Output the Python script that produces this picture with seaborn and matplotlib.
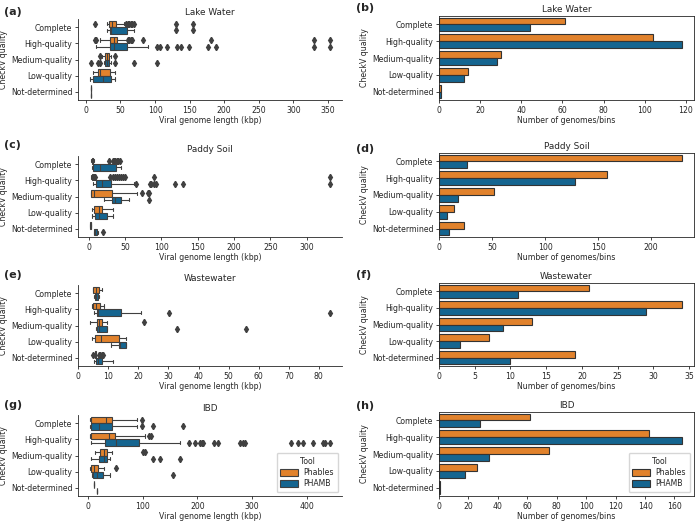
import matplotlib.pyplot as plt
from matplotlib.patches import Patch
import pandas as pd
import seaborn as sns

# CheckV quality categories (top to bottom)
qualities = ["Complete", "High-quality", "Medium-quality", "Low-quality", "Not-determined"]
tools = ["Phables", "PHAMB"]
datasets = ["Lake Water", "Paddy Soil", "Wastewater", "IBD"]

# box stats per quality: (whislo, q1, median, q3, whishi), values in kbp
lake_phables_box = [(30, 34, 38, 44, 55), (20, 35, 40, 45, 59), (24, 27, 30, 33, 36), (11, 17, 20, 35, 42), (8, 8, 8, 8, 8)]
lake_phables_fliers = [[13, 58, 61, 63, 65, 67, 69, 131, 155], [13, 14, 61, 63, 65, 67, 83, 181, 330, 353], [20, 42], [], []]
lake_phambs_box = [(30, 35, 37, 59, 69), (14, 35, 40, 60, 90), (26, 28, 30, 33, 36), (6, 11, 25, 37, 42), (8, 8, 8, 8, 8)]
lake_phambs_fliers = [[131, 155], [103, 107, 118, 132, 137, 149, 176, 188, 330, 353], [7, 18, 20, 42, 69, 103], [], []]

paddy_phables_box = [(4, 5, 5.5, 6, 7), (4, 5, 5.5, 6, 7), (3, 4, 7, 32, 67), (5, 7, 14, 18, 34), (2, 2.5, 3, 3.5, 4)]
paddy_phables_fliers = [[28, 33, 35, 37, 39, 41, 43], [8, 9, 30, 33, 36, 39, 42, 45, 48, 50, 90, 332], [74, 82, 83], [], []]
paddy_phambs_box = [(5, 5.5, 16, 38, 44), (6, 10, 18, 31, 62), (21, 32, 37, 45, 55), (5, 9, 15, 25, 34), (7, 8, 9, 12, 13)]
paddy_phambs_fliers = [[], [65, 84, 86, 90, 93, 119, 130, 332], [83], [], [20]]

waste_phables_box = [(4.8, 5, 5.8, 6.8, 7.8), (4.6, 4.8, 5.9, 7.2, 8.5), (3.9, 6.1, 6.8, 7.8, 9.4), (4.4, 5.6, 7.6, 13.4, 15.8), (5.2, 5.4, 5.6, 5.8, 6)]
waste_phables_fliers = [[], [], [21.8], [], [4.9, 6.8, 7.3, 7.8, 8.2]]
waste_phambs_box = [(5.3, 5.5, 6, 6.6, 6.8), (5.3, 6.1, 6.5, 14.3, 21), (6, 6.1, 7, 9.4, 9.4), (10.9, 13.6, 14, 15.9, 15.9), (5.3, 5.8, 6.5, 7.8, 11.5)]
waste_phambs_fliers = [[], [30.3, 83.7], [32.7, 55.7], [], []]

ibd_phables_box = [(3, 5, 32, 43, 90), (3, 5, 38, 48, 103), (12, 22, 28, 34, 43), (3, 5, 11, 18, 28), (11, 11, 11, 11, 11)]
ibd_phables_fliers = [[99], [111, 114], [101, 104], [50], []]
ibd_phambs_box = [(3, 5, 20, 43, 90), (4, 31, 50, 93, 168), (4, 20, 28, 34, 40), (7, 9, 15, 26, 40), (16, 16, 16, 16, 16)]
ibd_phambs_fliers = [[99, 119, 174], [185, 195, 205, 208, 210, 231, 237, 278, 283, 287, 372, 385, 393, 412, 430, 433, 443], [119, 131, 168], [156], []]

# number of genomes/bins per quality
lake_counts_phables = [61, 104, 30, 14, 1]
lake_counts_phamb = [44, 118, 28, 12, 1]
paddy_counts_phables = [229, 158, 52, 14, 24]
paddy_counts_phamb = [26, 128, 18, 8, 9]
waste_counts_phables = [21, 34, 13, 7, 19]
waste_counts_phamb = [11, 29, 9, 3, 10]
ibd_counts_phables = [62, 143, 75, 26, 1]
ibd_counts_phamb = [28, 165, 34, 18, 1]

box_data = [
    (lake_phables_box, lake_phables_fliers, lake_phambs_box, lake_phambs_fliers),
    (paddy_phables_box, paddy_phables_fliers, paddy_phambs_box, paddy_phambs_fliers),
    (waste_phables_box, waste_phables_fliers, waste_phambs_box, waste_phambs_fliers),
    (ibd_phables_box, ibd_phables_fliers, ibd_phambs_box, ibd_phambs_fliers),
]
count_data = [
    (lake_counts_phables, lake_counts_phamb),
    (paddy_counts_phables, paddy_counts_phamb),
    (waste_counts_phables, waste_counts_phamb),
    (ibd_counts_phables, ibd_counts_phamb),
]

sns.set_style("ticks")
plt.rcParams["font.family"] = ["DejaVu Sans"]
plt.rcParams["axes.linewidth"] = 0.6
plt.rcParams["xtick.major.width"] = 0.6
plt.rcParams["ytick.major.width"] = 0.6
plt.rcParams["xtick.major.size"] = 2.5
plt.rcParams["ytick.major.size"] = 2.5

raw_palette = {"Phables": "#FF800E", "PHAMB": "#006BA4"}
box_colors = {k: sns.desaturate(v, 0.75) for k, v in raw_palette.items()}
line_gray = "#404040"

W, H = 699, 522
fig = plt.figure(figsize=(W / 100, H / 100), dpi=100)


def px_rect(l, t, r, b):
    return [l / W, 1 - b / H, (r - l) / W, (b - t) / H]


left_rows = [(19, 100), (156, 237), (285, 366), (415, 496)]
right_rows = [(16, 100), (153, 237), (283, 366), (412, 496)]
left_labels = ["(a)", "(c)", "(e)", "(g)"]
right_labels = ["(b)", "(d)", "(f)", "(h)"]
left_label_y = [12, 145, 275, 405]
right_label_y = [8, 149, 275, 406]

fs = 5.6

for row, name in enumerate(datasets):
    # ---- boxplots of genome length ----
    ax = fig.add_axes(px_rect(78, left_rows[row][0], 342, left_rows[row][1]))
    p_box, p_fl, b_box, b_fl = box_data[row]
    for tool, boxes, fliers, offset in [("Phables", p_box, p_fl, -0.2), ("PHAMB", b_box, b_fl, 0.2)]:
        stats = []
        for (lo, q1, med, q3, hi), fl in zip(boxes, fliers):
            stats.append(dict(whislo=lo, q1=q1, med=med, q3=q3, whishi=hi, fliers=fl))
        ax.bxp(stats, positions=[i + offset for i in range(len(qualities))], widths=0.4,
               orientation="horizontal", patch_artist=True, manage_ticks=False,
               boxprops=dict(facecolor=box_colors[tool], edgecolor=line_gray, linewidth=0.8),
               medianprops=dict(color=line_gray, linewidth=0.8),
               whiskerprops=dict(color=line_gray, linewidth=0.8),
               capprops=dict(color=line_gray, linewidth=0.8),
               flierprops=dict(marker="d", markerfacecolor=line_gray, markeredgecolor=line_gray,
                               markersize=3.2, linestyle="none"))
    ax.set_yticks(range(len(qualities)))
    ax.set_yticklabels(qualities)
    ax.set_ylim(len(qualities) - 0.5, -0.5)
    ax.set_xlabel("Viral genome length (kbp)", fontsize=fs, labelpad=1)
    ax.set_ylabel("CheckV quality", fontsize=fs, labelpad=2)
    ax.set_title(name, fontsize=6.4, pad=3)
    ax.tick_params(labelsize=fs, pad=1.5)
    sns.despine(ax=ax)
    fig.text(4 / W, 1 - left_label_y[row] / H, left_labels[row], fontsize=8, fontweight="bold", va="center")
    if row == 3:
        handles = [Patch(facecolor=box_colors[t], edgecolor=line_gray, linewidth=0.8) for t in tools]
        ax.legend(handles, tools, title="Tool", loc="lower right", fontsize=fs, title_fontsize=fs,
                  handlelength=2.2, handleheight=1.0, borderpad=0.5, labelspacing=0.3)

    # ---- bar charts of counts ----
    ax2 = fig.add_axes(px_rect(439, right_rows[row][0], 694, right_rows[row][1]))
    ph_counts, pb_counts = count_data[row]
    df = pd.DataFrame({
        "CheckV quality": qualities * 2,
        "Tool": ["Phables"] * len(qualities) + ["PHAMB"] * len(qualities),
        "Number of genomes/bins": ph_counts + pb_counts,
    })
    sns.barplot(data=df, x="Number of genomes/bins", y="CheckV quality", hue="Tool",
                hue_order=tools, order=qualities, palette=raw_palette, edgecolor="0.2",
                linewidth=0.8, ax=ax2)
    ax2.set_xlabel("Number of genomes/bins", fontsize=fs, labelpad=1)
    ax2.set_ylabel("CheckV quality", fontsize=fs, labelpad=2)
    ax2.set_title(name, fontsize=6.4, pad=3)
    ax2.tick_params(labelsize=fs, pad=1.5)
    fig.text(356 / W, 1 - right_label_y[row] / H, right_labels[row], fontsize=8, fontweight="bold", va="center")
    if row == 3:
        ax2.legend(title="Tool", loc="lower right", fontsize=fs, title_fontsize=fs,
                   handlelength=2.2, handleheight=1.0, borderpad=0.5, labelspacing=0.3)
    else:
        ax2.legend().remove()

fig.savefig("out.png", dpi=100)
